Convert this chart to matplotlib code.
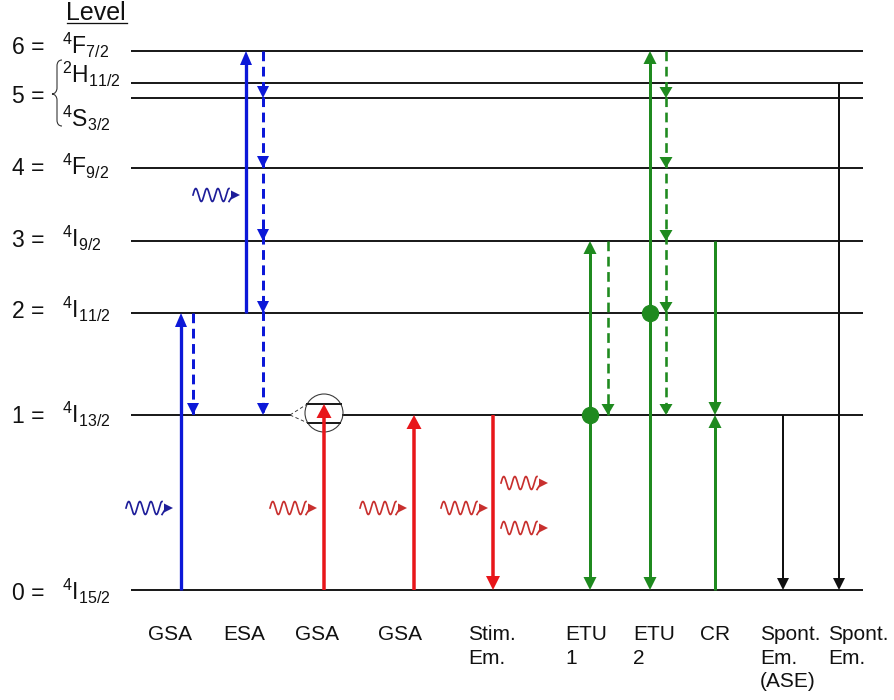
import numpy as np
import matplotlib
matplotlib.use("Agg")
import matplotlib.pyplot as plt
from matplotlib.patches import Polygon, Circle, PathPatch
from matplotlib.path import Path

plt.rcParams["font.family"] = ["Liberation Sans", "DejaVu Sans"]
plt.rcParams["mathtext.fontset"] = "custom"
plt.rcParams["mathtext.rm"] = "Liberation Sans"
plt.rcParams["mathtext.it"] = "Liberation Sans:italic"
plt.rcParams["mathtext.bf"] = "Liberation Sans:bold"
plt.rcParams["lines.scale_dashes"] = False

# ---- Er3+ manifolds, ground state upward (schematic energy units) ----
term_mult = ["4", "4", "4", "4", "4", "4", "2", "4"]
term_letter = ["I", "I", "I", "I", "F", "S", "H", "F"]
term_j = ["15/2", "13/2", "11/2", "9/2", "9/2", "3/2", "11/2", "7/2"]
level_group = ["0", "1", "2", "3", "4", "5", "5", "6"]
level_energy = [0, 175, 277, 349, 422, 492, 507, 539]

# Stark sublevels of 4I13/2 in the magnified view
stark_energy = [167, 186]

process_labels = ["GSA", "ESA", "GSA", "GSA", "Stim.\nEm.", "ETU\n1",
                  "ETU\n2", "CR", "Spont.\nEm.\n(ASE)", "Spont.\nEm."]

# cascade of non-radiative relaxation steps: 4F7/2 -> 4S3/2 -> ... -> 4I13/2
cascade_levels = [7, 5, 4, 3, 2, 1]

E = level_energy

BLUE = "#0c18d8"
BLUE_WAVE = "#1e1e9a"
RED = "#e8161a"
RED_WAVE = "#c8302e"
GREEN = "#1f8a1f"
BLACK = "#111111"
LINE = "#1c1c1c"

fig = plt.figure(figsize=(8.95, 7.0), dpi=100)
ax = fig.add_axes([0, 0, 1, 1])
ax.set_xlim(0, 895)
ax.set_ylim(-110, 590)
ax.axis("off")

PX = 0.72  # points per pixel at 100 dpi


def head(x, tip, sign, color, w, l):
    ax.add_patch(Polygon([[x, tip], [x - w / 2, tip - sign * l],
                          [x + w / 2, tip - sign * l]],
                         closed=True, color=color, lw=0, zorder=4))


def arrow(x, e0, e1, color, lw_px, w=12, l=14, dashed=False, stops=None):
    sign = 1 if e1 > e0 else -1
    if dashed:
        ax.plot([x, x], [e0, e1], color=color, lw=lw_px * PX,
                dashes=(7.0, 4.0), solid_capstyle="butt", zorder=3)
    else:
        ax.plot([x, x], [e0, e1 - sign * l * 0.6], color=color,
                lw=lw_px * PX, solid_capstyle="butt", zorder=3)
    for s in (stops if stops is not None else [e1]):
        head(x, s, sign, color, w, l)


def photon(xt, et, color):
    t = np.linspace(0, 1, 200)
    xs = xt - 47 + 36 * t
    ys = et + 6.5 * np.sin(2 * np.pi * 3.25 * t)
    ax.plot(xs, ys, color=color, lw=1.7 * PX, zorder=3)
    ax.plot([xt - 11, xt - 7], [et - 6.5, et], color=color, lw=1.7 * PX,
            zorder=3)
    ax.add_patch(Polygon([[xt, et], [xt - 9, et + 4.5], [xt - 9, et - 4.5]],
                         closed=True, color=color, lw=0, zorder=4))


# ---- energy levels ----
x_left, x_right = 132, 862
circ_c = (324, 177)
circ_r = 19
for i, e in enumerate(E):
    if i == 1:
        ax.plot([x_left, 290], [e, e], color=LINE, lw=2 * PX, zorder=2)
        ax.plot([circ_c[0] + circ_r, x_right], [e, e], color=LINE,
                lw=2 * PX, zorder=2)
    else:
        ax.plot([x_left, x_right], [e, e], color=LINE, lw=2 * PX, zorder=2)

# magnified Stark splitting of 4I13/2
ax.add_patch(Circle(circ_c, circ_r, fill=False, ec="#3a3a3a",
                    lw=1.1 * PX, zorder=2))
for s in stark_energy:
    dy = s - circ_c[1]
    half = np.sqrt(circ_r ** 2 - dy ** 2)
    ax.plot([circ_c[0] - half, circ_c[0] + half], [s, s], color=LINE,
            lw=2 * PX, zorder=2)
    ax.plot([290, circ_c[0] - half], [E[1], s], color="#333333",
            lw=0.9 * PX, dashes=(2.5, 1.8), zorder=2)

# ---- level labels ----
label_base = {0: -10, 1: -8, 2: -5, 3: -6, 4: -7, 5: -29, 6: 0, 7: -3}
for i in range(len(E)):
    txt = r"$^{%s}\mathrm{%s}_{%s}$" % (term_mult[i], term_letter[i], term_j[i])
    yb = E[i] + label_base[i]
    ax.text(62, yb, txt, fontsize=16.5, va="baseline", ha="left", color="#111")
    if i not in (5, 6):
        ax.text(12, yb, level_group[i] + " =", fontsize=16.5, va="baseline",
                ha="left", color="#111")
ax.text(12, 590 - 103, level_group[5] + " =", fontsize=16.5, va="baseline",
        ha="left", color="#111")

# brace grouping the two level-5 manifolds
top, mid, bot = 590 - 60, 590 - 94, 590 - 126
brace = Path([(62, top),
              (59, top), (57, top - 2), (57, top - 6),
              (57, mid + 6),
              (57, mid + 3), (55, mid), (52, mid),
              (55, mid), (57, mid - 3), (57, mid - 6),
              (57, bot + 6),
              (57, bot + 2), (59, bot), (62, bot)],
             [Path.MOVETO,
              Path.CURVE4, Path.CURVE4, Path.CURVE4,
              Path.LINETO,
              Path.CURVE4, Path.CURVE4, Path.CURVE4,
              Path.CURVE4, Path.CURVE4, Path.CURVE4,
              Path.LINETO,
              Path.CURVE4, Path.CURVE4, Path.CURVE4])
ax.add_patch(PathPatch(brace, fill=False, ec="#333333", lw=1.1 * PX))

ax.text(66, 590 - 20, "Level", fontsize=18, va="baseline", ha="left",
        color="#111")
ax.plot([67, 127], [590 - 23, 590 - 23], color="#111", lw=1.3 * PX)

# ---- transitions ----
# GSA (blue pump)
arrow(181, E[0], E[2], BLUE, 3.3)
arrow(193, E[2], E[1], BLUE, 3.0, dashed=True, w=12, l=12)
photon(173, 82, BLUE_WAVE)

# ESA
arrow(246, E[2], E[7], BLUE, 3.3)
arrow(263, E[7], E[1], BLUE, 3.0, dashed=True, w=12, l=12,
      stops=[E[k] for k in cascade_levels[1:]])
photon(240, 395, BLUE_WAVE)

# GSA into the upper Stark sublevel
arrow(324, E[0], stark_energy[1], RED, 3.5, w=15, l=14)
photon(317, 82, RED_WAVE)

# GSA (resonant)
arrow(414, E[0], E[1], RED, 3.5, w=15, l=14)
photon(407, 82, RED_WAVE)

# Stimulated emission
arrow(493, E[1], E[0], RED, 3.5, w=14, l=14)
photon(488, 82, RED_WAVE)
photon(548, 107, RED_WAVE)
photon(548, 62, RED_WAVE)

# ETU 1
arrow(590, E[1], E[3], GREEN, 3.0, w=13, l=13)
arrow(590, E[1], E[0], GREEN, 3.0, w=13, l=13)
ax.plot([590], [E[1]], "o", color=GREEN, ms=16 * PX, zorder=5)
arrow(608, E[3], E[1], GREEN, 2.6, dashed=True, w=13, l=11)

# ETU 2
arrow(650, E[2], E[7], GREEN, 3.0, w=13, l=13)
arrow(650, E[2], E[0], GREEN, 3.0, w=13, l=13)
ax.plot([650], [E[2]], "o", color=GREEN, ms=16 * PX, zorder=5)
arrow(666, E[7], E[1], GREEN, 2.6, dashed=True, w=13, l=11,
      stops=[E[k] for k in cascade_levels[1:]])

# Cross relaxation
arrow(715, E[3], E[1], GREEN, 3.0, w=13, l=13)
arrow(715, E[0], E[1], GREEN, 3.0, w=13, l=13)

# Spontaneous emission
arrow(783, E[1], E[0], BLACK, 2.0, w=12, l=12)
arrow(839, E[6], E[0], BLACK, 2.0, w=12, l=12)

# ---- process labels ----
label_x = [148, 223, 295, 378, 468, 565, 633, 700, 760, 828]
row_base = [590 - 640, 590 - 663.5, 590 - 687]
for lx, lab in zip(label_x, process_labels):
    for r, line in enumerate(lab.split("\n")):
        ax.text(lx, row_base[r], line, fontsize=15, va="baseline",
                ha="left", color="#111")

fig.savefig("out.png", dpi=100)
